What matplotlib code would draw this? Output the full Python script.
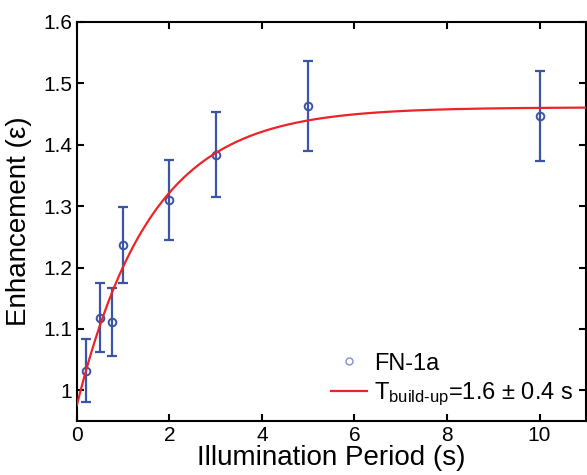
import numpy as np
import matplotlib
matplotlib.use("Agg")
import matplotlib.pyplot as plt

plt.rcParams['font.family'] = ['Liberation Sans', 'DejaVu Sans']
plt.rcParams['mathtext.fontset'] = 'custom'
plt.rcParams['mathtext.rm'] = 'Liberation Sans'
plt.rcParams['mathtext.it'] = 'Liberation Sans:italic'

# measured points (illumination period in s, enhancement)
period = [0.2, 0.5, 0.75, 1.0, 2.0, 3.0, 5.0, 10.0]
enh = [1.032, 1.118, 1.112, 1.237, 1.310, 1.384, 1.463, 1.447]
err_lo = [0.051, 0.055, 0.056, 0.062, 0.065, 0.069, 0.073, 0.073]
err_hi = [0.052, 0.057, 0.055, 0.062, 0.065, 0.069, 0.073, 0.073]

# fit parameters: y = amp_inf - amp_delta * exp(-t / tau)
amp_inf = 1.461
amp_delta = 0.485
tau = 1.6

blue = '#3a54a6'
red = '#ec2327'

fig = plt.figure(figsize=(5.87, 4.75), dpi=100)
ax = fig.add_axes([0.131, 0.1137, 0.867, 0.84])

t = np.linspace(0, 11, 400)
fit = amp_inf - amp_delta * np.exp(-t / tau)

ax.errorbar(period, enh, yerr=[err_lo, err_hi], fmt='none', ecolor=blue,
            elinewidth=1.6, capsize=3.5, capthick=1.6, zorder=2)
ax.plot(period, enh, 'o', mfc='none', mec=blue, mew=1.4, ms=5.5, zorder=3)
ax.plot(t, fit, color=red, lw=1.6, zorder=4)

# legend handles
h1, = ax.plot([], [], 'o', mfc='none', mec='#8090cc', mew=1.0, ms=5)
h2, = ax.plot([], [], color=red, lw=1.6)
ax.legend([h1, h2], ['FN-1a', r'T$_{\mathrm{build\text{-}up}}$=1.6 $\pm$ 0.4 s'],
          loc='lower right', frameon=False, fontsize=17, handlelength=1.5,
          borderaxespad=0.15, labelspacing=0.25, handletextpad=0.3)

ax.set_xlim(0, 11)
ax.set_ylim(0.95, 1.6)
ax.set_xticks([0, 2, 4, 6, 8, 10])
ax.set_yticks([1.0, 1.1, 1.2, 1.3, 1.4, 1.5, 1.6])
ax.set_yticklabels(['1', '1.1', '1.2', '1.3', '1.4', '1.5', '1.6'])
ax.tick_params(direction='in', top=True, right=True, labelsize=15,
               width=1.5, length=5)
for s in ax.spines.values():
    s.set_linewidth(1.5)

ax.set_xlabel('Illumination Period (s)', fontsize=20, labelpad=0)
ax.set_ylabel('Enhancement (\u03b5)', fontsize=20, labelpad=8)

fig.savefig('out.png', dpi=100)
